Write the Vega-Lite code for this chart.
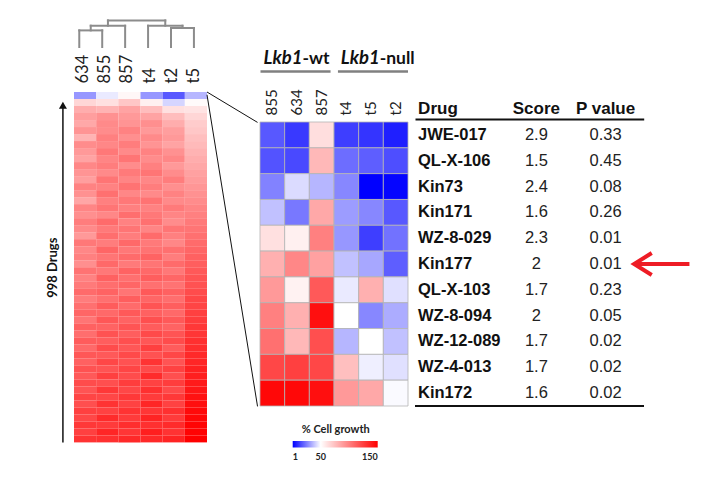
{
  "$schema": "https://vega.github.io/schema/vega-lite/v6.json",
  "background": "white",
  "padding": {"left": 46, "top": 18, "right": 5, "bottom": 5},
  "config": {"view": {"stroke": null}, "font": "Lato"},
  "datasets": {
    "dendro": [
      {"x": 0.5, "x2": 0.5, "h": 0, "h2": 16.6},
      {"x": 1.5, "x2": 1.5, "h": 0, "h2": 16.6},
      {"x": 0.5, "x2": 1.5, "h": 16.6, "h2": 16.6},
      {"x": 1.0, "x2": 1.0, "h": 16.6, "h2": 21.3},
      {"x": 2.5, "x2": 2.5, "h": 0, "h2": 21.3},
      {"x": 1.0, "x2": 2.5, "h": 21.3, "h2": 21.3},
      {"x": 1.75, "x2": 1.75, "h": 21.3, "h2": 26.6},
      {"x": 4.5, "x2": 4.5, "h": 0, "h2": 19},
      {"x": 5.5, "x2": 5.5, "h": 0, "h2": 19},
      {"x": 4.5, "x2": 5.5, "h": 19, "h2": 19},
      {"x": 5.0, "x2": 5.0, "h": 19, "h2": 21.3},
      {"x": 3.5, "x2": 3.5, "h": 0, "h2": 21.3},
      {"x": 3.5, "x2": 5.0, "h": 21.3, "h2": 21.3},
      {"x": 4.25, "x2": 4.25, "h": 21.3, "h2": 26.6},
      {"x": 1.75, "x2": 4.25, "h": 26.6, "h2": 26.6}
    ],
    "links": [
      {"x": 6, "x2": 8.28, "r": 0, "r2": 86.6},
      {"x": 6, "x2": 8.28, "r": 8, "r2": 895.5}
    ],
    "arrowL": [{"x": -0.5, "r": 37.6, "r2": 998}],
    "groups": [
      {"gene": "Lkb1", "status": "-wt", "split": 1.72, "from": 0.02, "to": 2.86},
      {"gene": "Lkb1", "status": "-null", "split": 4.85, "from": 3.16, "to": 6.0}
    ],
    "table": [
      {"drug": "JWE-017", "score": "2.9", "p": "0.33"},
      {"drug": "QL-X-106", "score": "1.5", "p": "0.45"},
      {"drug": "Kin73", "score": "2.4", "p": "0.08"},
      {"drug": "Kin171", "score": "1.6", "p": "0.26"},
      {"drug": "WZ-8-029", "score": "2.3", "p": "0.01"},
      {"drug": "Kin177", "score": "2", "p": "0.01"},
      {"drug": "QL-X-103", "score": "1.7", "p": "0.23"},
      {"drug": "WZ-8-094", "score": "2", "p": "0.05"},
      {"drug": "WZ-12-089", "score": "1.7", "p": "0.02"},
      {"drug": "WZ-4-013", "score": "1.7", "p": "0.02"},
      {"drug": "Kin172", "score": "1.6", "p": "0.02"}
    ],
    "flag": [{"drug": "Kin177", "x0": 2.9, "x1": 3.6, "head": 2.99}],
    "right": [
      {"d": "JWE-017", "s": "855", "v": 18}, {"d": "JWE-017", "s": "634", "v": 12}, {"d": "JWE-017", "s": "857", "v": 63}, {"d": "JWE-017", "s": "t4", "v": 13}, {"d": "JWE-017", "s": "t5", "v": 11}, {"d": "JWE-017", "s": "t2", "v": 7},
      {"d": "QL-X-106", "s": "855", "v": 17}, {"d": "QL-X-106", "s": "634", "v": 15}, {"d": "QL-X-106", "s": "857", "v": 78}, {"d": "QL-X-106", "s": "t4", "v": 22}, {"d": "QL-X-106", "s": "t5", "v": 19}, {"d": "QL-X-106", "s": "t2", "v": 16},
      {"d": "Kin73", "s": "855", "v": 26}, {"d": "Kin73", "s": "634", "v": 43}, {"d": "Kin73", "s": "857", "v": 36}, {"d": "Kin73", "s": "t4", "v": 27}, {"d": "Kin73", "s": "t5", "v": 1}, {"d": "Kin73", "s": "t2", "v": 2},
      {"d": "Kin171", "s": "855", "v": 38}, {"d": "Kin171", "s": "634", "v": 24}, {"d": "Kin171", "s": "857", "v": 84}, {"d": "Kin171", "s": "t4", "v": 31}, {"d": "Kin171", "s": "t5", "v": 27}, {"d": "Kin171", "s": "t2", "v": 18},
      {"d": "WZ-8-029", "s": "855", "v": 62}, {"d": "WZ-8-029", "s": "634", "v": 56}, {"d": "WZ-8-029", "s": "857", "v": 100}, {"d": "WZ-8-029", "s": "t4", "v": 30}, {"d": "WZ-8-029", "s": "t5", "v": 13}, {"d": "WZ-8-029", "s": "t2", "v": 23},
      {"d": "Kin177", "s": "855", "v": 81}, {"d": "Kin177", "s": "634", "v": 97}, {"d": "Kin177", "s": "857", "v": 87}, {"d": "Kin177", "s": "t4", "v": 38}, {"d": "Kin177", "s": "t5", "v": 33}, {"d": "Kin177", "s": "t2", "v": 19},
      {"d": "QL-X-103", "s": "855", "v": 90}, {"d": "QL-X-103", "s": "634", "v": 55}, {"d": "QL-X-103", "s": "857", "v": 115}, {"d": "QL-X-103", "s": "t4", "v": 46}, {"d": "QL-X-103", "s": "t5", "v": 81}, {"d": "QL-X-103", "s": "t2", "v": 44},
      {"d": "WZ-8-094", "s": "855", "v": 100}, {"d": "WZ-8-094", "s": "634", "v": 81}, {"d": "WZ-8-094", "s": "857", "v": 144}, {"d": "WZ-8-094", "s": "t4", "v": 50}, {"d": "WZ-8-094", "s": "t5", "v": 27}, {"d": "WZ-8-094", "s": "t2", "v": 34},
      {"d": "WZ-12-089", "s": "855", "v": 106}, {"d": "WZ-12-089", "s": "634", "v": 78}, {"d": "WZ-12-089", "s": "857", "v": 119}, {"d": "WZ-12-089", "s": "t4", "v": 36}, {"d": "WZ-12-089", "s": "t5", "v": 50}, {"d": "WZ-12-089", "s": "t2", "v": 38},
      {"d": "WZ-4-013", "s": "855", "v": 122}, {"d": "WZ-4-013", "s": "634", "v": 125}, {"d": "WZ-4-013", "s": "857", "v": 122}, {"d": "WZ-4-013", "s": "t4", "v": 75}, {"d": "WZ-4-013", "s": "t5", "v": 47}, {"d": "WZ-4-013", "s": "t2", "v": 44},
      {"d": "Kin172", "s": "855", "v": 147}, {"d": "Kin172", "s": "634", "v": 147}, {"d": "Kin172", "s": "857", "v": 144}, {"d": "Kin172", "s": "t4", "v": 90}, {"d": "Kin172", "s": "t5", "v": 84}, {"d": "Kin172", "s": "t2", "v": 49}
    ],
    "left": [
      {"b":1,"s":"634","v":30},{"b":1,"s":"855","v":46},{"b":1,"s":"857","v":53},{"b":1,"s":"t4","v":30},{"b":1,"s":"t2","v":18},{"b":1,"s":"t5","v":36},
      {"b":2,"s":"634","v":66},{"b":2,"s":"855","v":62},{"b":2,"s":"857","v":72},{"b":2,"s":"t4","v":56},{"b":2,"s":"t2","v":42},{"b":2,"s":"t5","v":52},
      {"b":3,"s":"634","v":82},{"b":3,"s":"855","v":80},{"b":3,"s":"857","v":86},{"b":3,"s":"t4","v":76},{"b":3,"s":"t2","v":62},{"b":3,"s":"t5","v":61},
      {"b":4,"s":"634","v":88},{"b":4,"s":"855","v":93},{"b":4,"s":"857","v":90},{"b":4,"s":"t4","v":86},{"b":4,"s":"t2","v":76},{"b":4,"s":"t5","v":66},
      {"b":5,"s":"634","v":84},{"b":5,"s":"855","v":96},{"b":5,"s":"857","v":92},{"b":5,"s":"t4","v":94},{"b":5,"s":"t2","v":82},{"b":5,"s":"t5","v":70},
      {"b":6,"s":"634","v":92},{"b":6,"s":"855","v":95},{"b":6,"s":"857","v":99},{"b":6,"s":"t4","v":90},{"b":6,"s":"t2","v":88},{"b":6,"s":"t5","v":72},
      {"b":7,"s":"634","v":80},{"b":7,"s":"855","v":100},{"b":7,"s":"857","v":94},{"b":7,"s":"t4","v":96},{"b":7,"s":"t2","v":90},{"b":7,"s":"t5","v":75},
      {"b":8,"s":"634","v":95},{"b":8,"s":"855","v":97},{"b":8,"s":"857","v":101},{"b":8,"s":"t4","v":92},{"b":8,"s":"t2","v":86},{"b":8,"s":"t5","v":77},
      {"b":9,"s":"634","v":90},{"b":9,"s":"855","v":103},{"b":9,"s":"857","v":96},{"b":9,"s":"t4","v":99},{"b":9,"s":"t2","v":93},{"b":9,"s":"t5","v":80},
      {"b":10,"s":"634","v":86},{"b":10,"s":"855","v":98},{"b":10,"s":"857","v":104},{"b":10,"s":"t4","v":95},{"b":10,"s":"t2","v":97},{"b":10,"s":"t5","v":82},
      {"b":11,"s":"634","v":97},{"b":11,"s":"855","v":101},{"b":11,"s":"857","v":95},{"b":11,"s":"t4","v":100},{"b":11,"s":"t2","v":90},{"b":11,"s":"t5","v":84},
      {"b":12,"s":"634","v":92},{"b":12,"s":"855","v":96},{"b":12,"s":"857","v":102},{"b":12,"s":"t4","v":104},{"b":12,"s":"t2","v":95},{"b":12,"s":"t5","v":87},
      {"b":13,"s":"634","v":88},{"b":13,"s":"855","v":104},{"b":13,"s":"857","v":98},{"b":13,"s":"t4","v":97},{"b":13,"s":"t2","v":101},{"b":13,"s":"t5","v":89},
      {"b":14,"s":"634","v":99},{"b":14,"s":"855","v":99},{"b":14,"s":"857","v":105},{"b":14,"s":"t4","v":101},{"b":14,"s":"t2","v":94},{"b":14,"s":"t5","v":91},
      {"b":15,"s":"634","v":93},{"b":15,"s":"855","v":106},{"b":15,"s":"857","v":97},{"b":15,"s":"t4","v":96},{"b":15,"s":"t2","v":99},{"b":15,"s":"t5","v":93},
      {"b":16,"s":"634","v":85},{"b":16,"s":"855","v":100},{"b":16,"s":"857","v":103},{"b":16,"s":"t4","v":105},{"b":16,"s":"t2","v":96},{"b":16,"s":"t5","v":95},
      {"b":17,"s":"634","v":98},{"b":17,"s":"855","v":104},{"b":17,"s":"857","v":100},{"b":17,"s":"t4","v":99},{"b":17,"s":"t2","v":102},{"b":17,"s":"t5","v":98},
      {"b":18,"s":"634","v":94},{"b":18,"s":"855","v":97},{"b":18,"s":"857","v":107},{"b":18,"s":"t4","v":103},{"b":18,"s":"t2","v":98},{"b":18,"s":"t5","v":100},
      {"b":19,"s":"634","v":101},{"b":19,"s":"855","v":108},{"b":19,"s":"857","v":99},{"b":19,"s":"t4","v":106},{"b":19,"s":"t2","v":95},{"b":19,"s":"t5","v":102},
      {"b":20,"s":"634","v":96},{"b":20,"s":"855","v":102},{"b":20,"s":"857","v":104},{"b":20,"s":"t4","v":98},{"b":20,"s":"t2","v":104},{"b":20,"s":"t5","v":104},
      {"b":21,"s":"634","v":90},{"b":21,"s":"855","v":107},{"b":21,"s":"857","v":101},{"b":21,"s":"t4","v":108},{"b":21,"s":"t2","v":100},{"b":21,"s":"t5","v":106},
      {"b":22,"s":"634","v":103},{"b":22,"s":"855","v":101},{"b":22,"s":"857","v":109},{"b":22,"s":"t4","v":102},{"b":22,"s":"t2","v":97},{"b":22,"s":"t5","v":108},
      {"b":23,"s":"634","v":97},{"b":23,"s":"855","v":110},{"b":23,"s":"857","v":103},{"b":23,"s":"t4","v":105},{"b":23,"s":"t2","v":106},{"b":23,"s":"t5","v":110},
      {"b":24,"s":"634","v":100},{"b":24,"s":"855","v":104},{"b":24,"s":"857","v":108},{"b":24,"s":"t4","v":111},{"b":24,"s":"t2","v":101},{"b":24,"s":"t5","v":112},
      {"b":25,"s":"634","v":94},{"b":25,"s":"855","v":109},{"b":25,"s":"857","v":102},{"b":25,"s":"t4","v":104},{"b":25,"s":"t2","v":108},{"b":25,"s":"t5","v":113},
      {"b":26,"s":"634","v":105},{"b":26,"s":"855","v":103},{"b":26,"s":"857","v":111},{"b":26,"s":"t4","v":109},{"b":26,"s":"t2","v":103},{"b":26,"s":"t5","v":115},
      {"b":27,"s":"634","v":99},{"b":27,"s":"855","v":112},{"b":27,"s":"857","v":106},{"b":27,"s":"t4","v":113},{"b":27,"s":"t2","v":110},{"b":27,"s":"t5","v":117},
      {"b":28,"s":"634","v":102},{"b":28,"s":"855","v":107},{"b":28,"s":"857","v":110},{"b":28,"s":"t4","v":106},{"b":28,"s":"t2","v":105},{"b":28,"s":"t5","v":118},
      {"b":29,"s":"634","v":108},{"b":29,"s":"855","v":111},{"b":29,"s":"857","v":104},{"b":29,"s":"t4","v":115},{"b":29,"s":"t2","v":112},{"b":29,"s":"t5","v":120},
      {"b":30,"s":"634","v":101},{"b":30,"s":"855","v":106},{"b":30,"s":"857","v":113},{"b":30,"s":"t4","v":110},{"b":30,"s":"t2","v":107},{"b":30,"s":"t5","v":122},
      {"b":31,"s":"634","v":106},{"b":31,"s":"855","v":114},{"b":31,"s":"857","v":108},{"b":31,"s":"t4","v":117},{"b":31,"s":"t2","v":113},{"b":31,"s":"t5","v":123},
      {"b":32,"s":"634","v":110},{"b":32,"s":"855","v":109},{"b":32,"s":"857","v":115},{"b":32,"s":"t4","v":112},{"b":32,"s":"t2","v":109},{"b":32,"s":"t5","v":125},
      {"b":33,"s":"634","v":104},{"b":33,"s":"855","v":116},{"b":33,"s":"857","v":111},{"b":33,"s":"t4","v":119},{"b":33,"s":"t2","v":115},{"b":33,"s":"t5","v":126},
      {"b":34,"s":"634","v":112},{"b":34,"s":"855","v":111},{"b":34,"s":"857","v":117},{"b":34,"s":"t4","v":114},{"b":34,"s":"t2","v":111},{"b":34,"s":"t5","v":128},
      {"b":35,"s":"634","v":107},{"b":35,"s":"855","v":118},{"b":35,"s":"857","v":113},{"b":35,"s":"t4","v":121},{"b":35,"s":"t2","v":117},{"b":35,"s":"t5","v":129},
      {"b":36,"s":"634","v":114},{"b":36,"s":"855","v":113},{"b":36,"s":"857","v":119},{"b":36,"s":"t4","v":116},{"b":36,"s":"t2","v":120},{"b":36,"s":"t5","v":131},
      {"b":37,"s":"634","v":109},{"b":37,"s":"855","v":120},{"b":37,"s":"857","v":116},{"b":37,"s":"t4","v":125},{"b":37,"s":"t2","v":114},{"b":37,"s":"t5","v":132},
      {"b":38,"s":"634","v":116},{"b":38,"s":"855","v":115},{"b":38,"s":"857","v":121},{"b":38,"s":"t4","v":118},{"b":38,"s":"t2","v":122},{"b":38,"s":"t5","v":134},
      {"b":39,"s":"634","v":112},{"b":39,"s":"855","v":122},{"b":39,"s":"857","v":118},{"b":39,"s":"t4","v":130},{"b":39,"s":"t2","v":117},{"b":39,"s":"t5","v":135},
      {"b":40,"s":"634","v":118},{"b":40,"s":"855","v":117},{"b":40,"s":"857","v":123},{"b":40,"s":"t4","v":121},{"b":40,"s":"t2","v":124},{"b":40,"s":"t5","v":137},
      {"b":41,"s":"634","v":115},{"b":41,"s":"855","v":125},{"b":41,"s":"857","v":120},{"b":41,"s":"t4","v":133},{"b":41,"s":"t2","v":119},{"b":41,"s":"t5","v":138},
      {"b":42,"s":"634","v":120},{"b":42,"s":"855","v":119},{"b":42,"s":"857","v":126},{"b":42,"s":"t4","v":124},{"b":42,"s":"t2","v":126},{"b":42,"s":"t5","v":140},
      {"b":43,"s":"634","v":117},{"b":43,"s":"855","v":128},{"b":43,"s":"857","v":122},{"b":43,"s":"t4","v":131},{"b":43,"s":"t2","v":121},{"b":43,"s":"t5","v":141},
      {"b":44,"s":"634","v":123},{"b":44,"s":"855","v":122},{"b":44,"s":"857","v":128},{"b":44,"s":"t4","v":127},{"b":44,"s":"t2","v":128},{"b":44,"s":"t5","v":143},
      {"b":45,"s":"634","v":119},{"b":45,"s":"855","v":130},{"b":45,"s":"857","v":124},{"b":45,"s":"t4","v":135},{"b":45,"s":"t2","v":124},{"b":45,"s":"t5","v":144},
      {"b":46,"s":"634","v":125},{"b":46,"s":"855","v":124},{"b":46,"s":"857","v":130},{"b":46,"s":"t4","v":129},{"b":46,"s":"t2","v":131},{"b":46,"s":"t5","v":146},
      {"b":47,"s":"634","v":122},{"b":47,"s":"855","v":133},{"b":47,"s":"857","v":127},{"b":47,"s":"t4","v":136},{"b":47,"s":"t2","v":127},{"b":47,"s":"t5","v":147},
      {"b":48,"s":"634","v":128},{"b":48,"s":"855","v":127},{"b":48,"s":"857","v":132},{"b":48,"s":"t4","v":131},{"b":48,"s":"t2","v":133},{"b":48,"s":"t5","v":148},
      {"b":49,"s":"634","v":125},{"b":49,"s":"855","v":135},{"b":49,"s":"857","v":129},{"b":49,"s":"t4","v":138},{"b":49,"s":"t2","v":130},{"b":49,"s":"t5","v":149},
      {"b":50,"s":"634","v":130},{"b":50,"s":"855","v":131},{"b":50,"s":"857","v":134},{"b":50,"s":"t4","v":134},{"b":50,"s":"t2","v":136},{"b":50,"s":"t5","v":150}
    ]
  },
  "spacing": 0,
  "resolve": {"scale": {"color": "independent"}, "legend": {"color": "independent"}},
  "hconcat": [
    {
      "spacing": 5,
      "vconcat": [
        {
          "width": 133,
          "height": 28,
          "data": {"name": "dendro"},
          "mark": {"type": "rule", "color": "#8c8c8c", "strokeWidth": 2, "strokeCap": "square"},
          "encoding": {
            "x": {"field": "x", "type": "quantitative", "scale": {"domain": [0.27, 6.07], "nice": false, "zero": false}, "axis": null},
            "x2": {"field": "x2"},
            "y": {"field": "h", "type": "quantitative", "scale": {"domain": [0, 28], "nice": false, "zero": false}, "axis": null},
            "y2": {"field": "h2"}
          }
        },
        {
          "width": 133,
          "height": 350.4,
          "layer": [
            {
              "data": {"name": "left"},
              "mark": {"type": "rect"},
              "encoding": {
                "x": {
                  "field": "s", "type": "nominal",
                  "scale": {"domain": ["634", "855", "857", "t4", "t2", "t5"], "paddingInner": 0, "paddingOuter": 0},
                  "axis": {"orient": "top", "title": null, "labelAngle": -90, "labelFontSize": 16.5, "labelFont": "Lato", "labelColor": "#222222", "ticks": false, "domain": false, "labelPadding": 9, "labelOffset": -2}
                },
                "y": {
                  "field": "b", "type": "ordinal",
                  "scale": {"paddingInner": 0, "paddingOuter": 0},
                  "axis": {"orient": "left", "labels": false, "ticks": false, "domain": false, "title": "998 Drugs", "titleFontSize": 13, "titleFontWeight": "bold", "titleFont": "Lato", "titleColor": "#111111", "titlePadding": 15}
                },
                "color": {
                  "field": "v", "type": "quantitative",
                  "scale": {"type": "linear", "domain": [1, 50, 150], "range": ["#0000ff", "#ffffff", "#ff0000"], "interpolate": "rgb", "clamp": true},
                  "legend": null
                }
              }
            },
            {
              "layer": [
                {
                  "data": {"name": "links"},
                  "mark": {"type": "rule", "color": "#111111", "strokeWidth": 1, "clip": false},
                  "encoding": {
                    "x": {"field": "x", "type": "quantitative", "scale": {"domain": [0, 6], "nice": false, "zero": false}, "axis": null},
                    "x2": {"field": "x2"},
                    "y": {"field": "r", "type": "quantitative", "scale": {"domain": [0, 998], "reverse": true, "nice": false, "zero": false}, "axis": null},
                    "y2": {"field": "r2"}
                  }
                },
                {
                  "data": {"name": "arrowL"},
                  "mark": {"type": "rule", "color": "#111111", "strokeWidth": 1.5, "clip": false},
                  "encoding": {
                    "x": {"field": "x", "type": "quantitative"},
                    "y": {"field": "r", "type": "quantitative"},
                    "y2": {"field": "r2"}
                  }
                },
                {
                  "data": {"name": "arrowL"},
                  "mark": {"type": "point", "shape": "triangle-up", "size": 64, "filled": true, "color": "#111111", "opacity": 1, "clip": false},
                  "encoding": {
                    "x": {"field": "x", "type": "quantitative"},
                    "y": {"field": "r", "type": "quantitative"}
                  }
                }
              ]
            }
          ],
          "resolve": {"scale": {"x": "independent", "y": "independent"}}
        }
      ]
    },
    {
      "spacing": 15,
      "vconcat": [
        {
          "width": 148,
          "height": 52.6,
          "data": {"name": "groups"},
          "layer": [
            {
              "mark": {"type": "rule", "color": "#808080", "strokeWidth": 2.5},
              "encoding": {
                "x": {"field": "from", "type": "quantitative", "scale": {"domain": [0, 6], "nice": false, "zero": false}, "axis": null},
                "x2": {"field": "to"},
                "y": {"datum": 0, "type": "quantitative", "scale": {"domain": [0, 1], "nice": false, "zero": false}, "axis": null}
              }
            },
            {
              "mark": {"type": "text", "align": "right", "baseline": "alphabetic", "dy": -7.5, "fontSize": 18.5, "fontWeight": "bold", "fontStyle": "italic", "font": "Lato", "color": "#111111"},
              "encoding": {
                "x": {"field": "split", "type": "quantitative"},
                "y": {"datum": 0, "type": "quantitative"},
                "text": {"field": "gene"}
              }
            },
            {
              "mark": {"type": "text", "align": "left", "baseline": "alphabetic", "dy": -7.5, "fontSize": 17.5, "fontWeight": "bold", "font": "Lato", "color": "#111111"},
              "encoding": {
                "x": {"field": "split", "type": "quantitative"},
                "y": {"datum": 0, "type": "quantitative"},
                "text": {"field": "status"}
              }
            }
          ]
        },
        {
          "spacing": 5,
          "resolve": {"scale": {"color": "independent"}, "legend": {"color": "independent"}},
          "hconcat": [
            {
              "width": 148,
              "height": 284,
              "data": {"name": "right"},
              "mark": {"type": "rect", "stroke": "#b4b4b4", "strokeWidth": 0.8},
              "encoding": {
                "x": {
                  "field": "s", "type": "nominal",
                  "scale": {"domain": ["855", "634", "857", "t4", "t5", "t2"], "paddingInner": 0, "paddingOuter": 0},
                  "axis": {"orient": "top", "title": null, "labelAngle": -90, "labelFontSize": 15, "labelFont": "Lato", "labelColor": "#222222", "ticks": false, "domain": false, "labelPadding": 7}
                },
                "y": {
                  "field": "d", "type": "nominal",
                  "scale": {"domain": ["JWE-017", "QL-X-106", "Kin73", "Kin171", "WZ-8-029", "Kin177", "QL-X-103", "WZ-8-094", "WZ-12-089", "WZ-4-013", "Kin172"], "paddingInner": 0, "paddingOuter": 0},
                  "axis": null
                },
                "color": {
                  "field": "v", "type": "quantitative", "title": "% Cell growth",
                  "scale": {"type": "linear", "domain": [1, 50, 150], "range": ["#0000ff", "#ffffff", "#ff0000"], "interpolate": "rgb", "clamp": true},
                  "legend": {
                    "orient": "none", "legendX": 32.7, "legendY": 302, "direction": "horizontal",
                    "titleFontSize": 11, "titleFont": "Lato", "titleFontWeight": "bold", "titleColor": "#222222", "titleAnchor": "middle", "titlePadding": 6,
                    "gradientLength": 85, "gradientThickness": 6.5, "gradientStrokeWidth": 0,
                    "values": [1, 50, 150], "labelFontSize": 9, "labelFont": "Lato", "labelFontWeight": "bold", "labelColor": "#222222", "labelOffset": 5
                  }
                }
              }
            },
            {
              "width": 228.7,
              "height": 284,
              "layer": [
                {
                  "data": {"name": "table"},
                  "layer": [
                    {
                      "mark": {"type": "text", "align": "left", "dx": 3, "fontSize": 16.5, "fontWeight": "bold", "font": "Liberation Sans", "color": "#111111"},
                      "encoding": {
                        "x": {
                          "datum": "Drug", "type": "nominal", "bandPosition": 0,
                          "scale": {"type": "band", "domain": ["Drug", "Score", "P value"], "paddingInner": 0, "paddingOuter": 0},
                          "axis": {
                            "orient": "top", "title": null, "ticks": false, "domain": true, "domainColor": "#111111", "domainWidth": 2, "offset": 3,
                            "labelFontSize": 17, "labelFontWeight": "bold", "labelFont": "Liberation Sans", "labelColor": "#111111", "labelPadding": 2, "labelAngle": 0,
                            "labelAlign": {"condition": {"test": "datum.value === 'Drug'", "value": "left"}, "value": "center"},
                            "labelOffset": {"condition": [{"test": "datum.value === 'Drug'", "value": -35}, {"test": "datum.value === 'Score'", "value": 7}], "value": 0}
                          }
                        },
                        "y": {
                          "field": "drug", "type": "nominal",
                          "scale": {"type": "band", "domain": ["JWE-017", "QL-X-106", "Kin73", "Kin171", "WZ-8-029", "Kin177", "QL-X-103", "WZ-8-094", "WZ-12-089", "WZ-4-013", "Kin172"], "paddingInner": 0, "paddingOuter": 0},
                          "axis": null
                        },
                        "text": {"field": "drug", "type": "nominal"}
                      }
                    },
                    {
                      "mark": {"type": "text", "align": "center", "dx": 7, "fontSize": 16.5, "font": "Liberation Sans", "color": "#222222"},
                      "encoding": {
                        "x": {"datum": "Score", "type": "nominal"},
                        "y": {"field": "drug", "type": "nominal"},
                        "text": {"field": "score", "type": "nominal"}
                      }
                    },
                    {
                      "mark": {"type": "text", "align": "center", "dx": 0, "fontSize": 16.5, "font": "Liberation Sans", "color": "#222222"},
                      "encoding": {
                        "x": {"datum": "P value", "type": "nominal"},
                        "y": {"field": "drug", "type": "nominal"},
                        "text": {"field": "p", "type": "nominal"}
                      }
                    },
                    {
                      "mark": {"type": "rule", "color": "#111111", "strokeWidth": 2},
                      "encoding": {
                        "y": {"datum": "Kin172", "type": "nominal", "bandPosition": 1}
                      }
                    }
                  ]
                },
                {
                  "data": {"name": "flag"},
                  "layer": [
                    {
                      "mark": {"type": "rule", "color": "#ee1c25", "strokeWidth": 4, "clip": false},
                      "encoding": {
                        "x": {"field": "x0", "type": "quantitative", "scale": {"domain": [0, 3], "nice": false, "zero": false}, "axis": null},
                        "x2": {"field": "x1"},
                        "y": {"field": "drug", "type": "nominal"}
                      }
                    },
                    {
                      "mark": {"type": "point", "shape": "M0.8,-1L-0.8,0L0.8,1", "size": 484, "filled": false, "stroke": "#ee1c25", "strokeWidth": 4, "opacity": 1, "clip": false},
                      "encoding": {
                        "x": {"field": "head", "type": "quantitative"},
                        "y": {"field": "drug", "type": "nominal"}
                      }
                    }
                  ]
                }
              ],
              "resolve": {"scale": {"x": "independent"}}
            }
          ]
        }
      ]
    }
  ]
}
